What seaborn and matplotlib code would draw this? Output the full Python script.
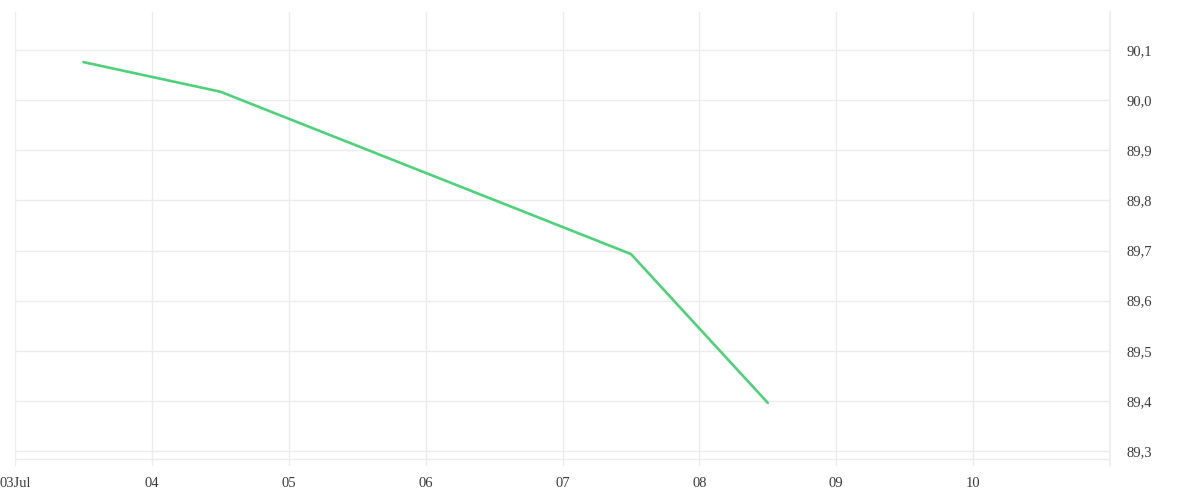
import pandas as pd
import seaborn as sns
import matplotlib.pyplot as plt

# values
dates = ["2024-07-03 12:00", "2024-07-04 12:00", "2024-07-05 12:00",
         "2024-07-06 12:00", "2024-07-07 12:00", "2024-07-08 12:00"]
values = [90.076, 90.017, 89.909, 89.801, 89.693, 89.396]
x_ticks = ["2024-07-03", "2024-07-04", "2024-07-05", "2024-07-06",
           "2024-07-07", "2024-07-08", "2024-07-09", "2024-07-10"]
x_labels = ["03Jul", "04", "05", "06", "07", "08", "09", "10"]
y_ticks = [89.3, 89.4, 89.5, 89.6, 89.7, 89.8, 89.9, 90.0, 90.1]

df = pd.DataFrame({"date": pd.to_datetime(dates), "value": values})

sns.set_theme(style="white")
plt.rcParams["font.family"] = ["Liberation Serif", "DejaVu Serif"]

fig = plt.figure(figsize=(12, 5), dpi=100)
ax = fig.add_axes([0.0125, 0.068, 0.9125, 0.908])

sns.lineplot(data=df, x="date", y="value", color="#4dd27a", linewidth=1.9, ax=ax)

ax.set_xlim(pd.Timestamp("2024-07-03"), pd.Timestamp("2024-07-11"))
ax.set_ylim(89.27, 90.176)

ax.set_xticks(pd.to_datetime(x_ticks))
ax.set_xticklabels(x_labels)
ax.set_yticks(y_ticks)
ax.set_yticklabels([f"{v:.1f}".replace(".", ",") for v in y_ticks])

ax.yaxis.tick_right()
ax.tick_params(axis="both", length=0, labelsize=10.5, colors="#3a3a3a")
ax.tick_params(axis="x", pad=8)
ax.tick_params(axis="y", pad=12)

ax.grid(True, color="#ececec", linewidth=1)
# faint baseline just under the lowest gridline
ax.axhline(89.284, color="#ececec", linewidth=1, zorder=0)
for side in ["top", "left", "bottom"]:
    ax.spines[side].set_visible(False)
ax.spines["right"].set_color("#ececec")
ax.set_xlabel("")
ax.set_ylabel("")

plt.savefig("out.png", dpi=100)
